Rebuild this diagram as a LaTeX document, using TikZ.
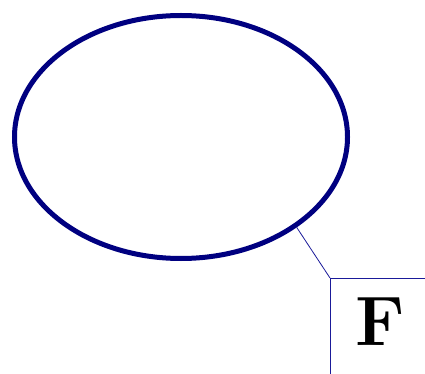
\documentclass[tikz,border=0pt]{standalone}
\usepackage{tikz}
\usetikzlibrary{shapes.geometric,positioning}
\definecolor{Navy}{HTML}{000080}
\definecolor{Edge}{HTML}{1A1A99}

\begin{document}
\begin{tikzpicture}[x=1pt,y=-1pt,
  ring/.style={draw=Navy, ellipse, line width=5pt, minimum width=333pt, minimum height=243pt, inner sep=0pt},
  panel/.style={draw=Edge, line width=1.2pt, minimum width=110pt, minimum height=110pt, inner sep=0pt},
  lead/.style={draw=Edge, line width=0.8pt}
]
\useasboundingbox (0,0) rectangle (425,374);
\clip (0,0) rectangle (425,374);
\node[ring] (oval) at (181,137) {};
\node[panel, anchor=north west] (fbox) at (330,278) {};
\node[font=\fontsize{70}{70}\selectfont\bfseries] (flab) at (380,322) {F};
\draw[lead] (oval.-38) -- (fbox.north west);
\end{tikzpicture}
\end{document}
